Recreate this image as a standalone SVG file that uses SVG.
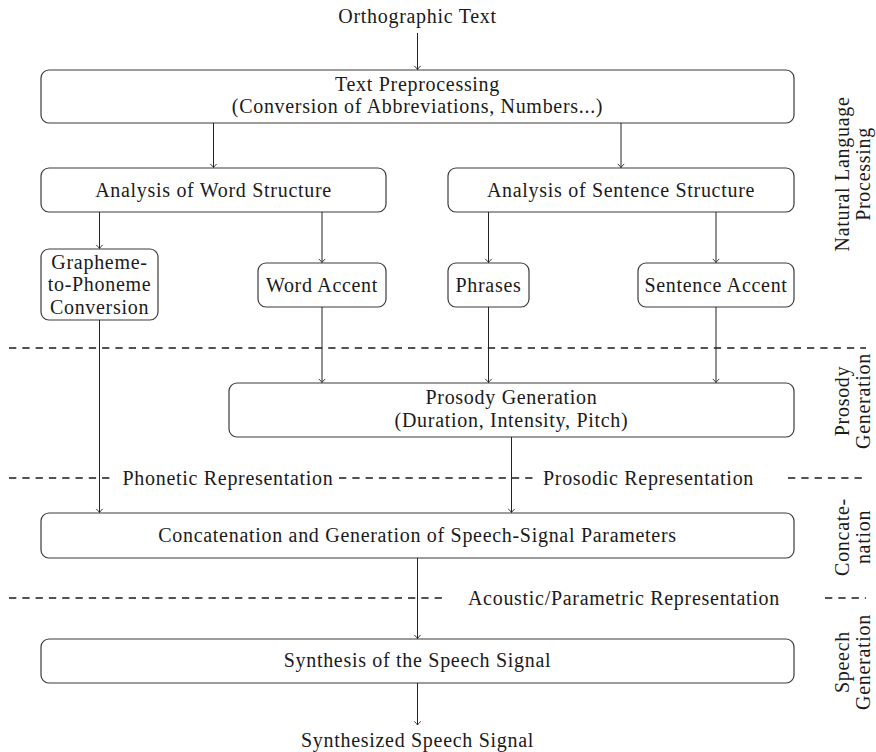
<svg xmlns="http://www.w3.org/2000/svg" width="876" height="752" viewBox="0 0 876 752">
<style>
text{font-family:"Liberation Serif","Times New Roman",serif;font-size:20px;letter-spacing:0.7px;fill:#1a1a1a;text-anchor:middle}
.box{fill:#fff;stroke:#3a3a3a;stroke-width:1.2}
.c{stroke:#222;stroke-width:1;fill:none}
.d{stroke:#1a1a1a;stroke-width:1.4;stroke-dasharray:7.3 6;fill:none}
</style>
<defs>
<marker id="ah" markerUnits="userSpaceOnUse" markerWidth="10" markerHeight="10" viewBox="-5 -5 10 10" refX="0" refY="0" orient="auto">
<path d="M-3.6,-3.2 Q-1,-0.6 0,0 Q-1,0.6 -3.6,3.2" fill="none" stroke="#222" stroke-width="0.9"/>
</marker>
</defs>
<rect width="876" height="752" fill="#fff"/>
<g id="separators">
<path class="d" d="M9,348H866"/>
<path class="d" d="M9,478H114"/>
<path class="d" d="M339,478H538"/>
<path class="d" d="M788,478H866"/>
<path class="d" d="M9,598H442"/>
<path class="d" d="M825,598H866"/>
</g>
<g id="layer-labels">
<text x="228" y="484.5">Phonetic Representation</text>
<text x="648.5" y="484.5">Prosodic Representation</text>
<text x="624" y="604.5">Acoustic/Parametric Representation</text>
<g transform="translate(849,174) rotate(-90)"><text x="0" y="0">Natural Language</text></g>
<g transform="translate(870,174) rotate(-90)"><text x="0" y="0">Processing</text></g>
<g transform="translate(849,401) rotate(-90)"><text x="0" y="0">Prosody</text></g>
<g transform="translate(870,401) rotate(-90)"><text x="0" y="0">Generation</text></g>
<g transform="translate(849,537) rotate(-90)"><text x="0" y="0">Concate-</text></g>
<g transform="translate(870,537) rotate(-90)"><text x="0" y="0">nation</text></g>
<g transform="translate(849,662) rotate(-90)"><text x="0" y="0">Speech</text></g>
<g transform="translate(870,662) rotate(-90)"><text x="0" y="0">Generation</text></g>
</g>
<g id="input"><text x="417.5" y="22.5">Orthographic Text</text></g>
<g id="output"><text x="417.5" y="747">Synthesized Speech Signal</text></g>
<g id="preprocessing">
<rect class="box" x="41" y="70" width="753" height="53" rx="8"/>
<text x="417.5" y="90.5">Text Preprocessing</text>
<text x="417.5" y="113">(Conversion of Abbreviations, Numbers...)</text>
</g>
<g id="word-structure">
<rect class="box" x="41" y="168" width="345" height="44" rx="8"/>
<text x="213.5" y="197">Analysis of Word Structure</text>
</g>
<g id="sentence-structure">
<rect class="box" x="448" y="168" width="346" height="44" rx="8"/>
<text x="621" y="197">Analysis of Sentence Structure</text>
</g>
<g id="g2p">
<rect class="box" x="41" y="249" width="117" height="71" rx="8"/>
<text x="99.5" y="268.5">Grapheme-</text>
<text x="99.5" y="291">to-Phoneme</text>
<text x="99.5" y="313.5">Conversion</text>
</g>
<g id="word-accent">
<rect class="box" x="258" y="263" width="128" height="44" rx="8"/>
<text x="322" y="292">Word Accent</text>
</g>
<g id="phrases">
<rect class="box" x="448" y="263" width="81" height="44" rx="8"/>
<text x="488.5" y="292">Phrases</text>
</g>
<g id="sentence-accent">
<rect class="box" x="638" y="263" width="156" height="44" rx="8"/>
<text x="716" y="292">Sentence Accent</text>
</g>
<g id="prosody">
<rect class="box" x="229" y="383" width="565" height="54" rx="8"/>
<text x="511.5" y="404">Prosody Generation</text>
<text x="511.5" y="426.5">(Duration, Intensity, Pitch)</text>
</g>
<g id="concatenation">
<rect class="box" x="41" y="513" width="753" height="45" rx="8"/>
<text x="417.5" y="542">Concatenation and Generation of Speech-Signal Parameters</text>
</g>
<g id="synthesis">
<rect class="box" x="41" y="639" width="753" height="44" rx="8"/>
<text x="417.5" y="667">Synthesis of the Speech Signal</text>
</g>
<g id="connectors">
<path class="c" d="M417.5,33V69.5" marker-end="url(#ah)"/>
<path class="c" d="M213.5,123V167.5" marker-end="url(#ah)"/>
<path class="c" d="M621,123V167.5" marker-end="url(#ah)"/>
<path class="c" d="M99.5,212V248.5" marker-end="url(#ah)"/>
<path class="c" d="M322,212V262.5" marker-end="url(#ah)"/>
<path class="c" d="M488.5,212V262.5" marker-end="url(#ah)"/>
<path class="c" d="M716,212V262.5" marker-end="url(#ah)"/>
<path class="c" d="M99.5,320V512.5" marker-end="url(#ah)"/>
<path class="c" d="M322,307V382.5" marker-end="url(#ah)"/>
<path class="c" d="M488.5,307V382.5" marker-end="url(#ah)"/>
<path class="c" d="M716,307V382.5" marker-end="url(#ah)"/>
<path class="c" d="M511.5,437V512.5" marker-end="url(#ah)"/>
<path class="c" d="M417.5,558V638.5" marker-end="url(#ah)"/>
<path class="c" d="M417.5,683V725" marker-end="url(#ah)"/>
</g>
</svg>
